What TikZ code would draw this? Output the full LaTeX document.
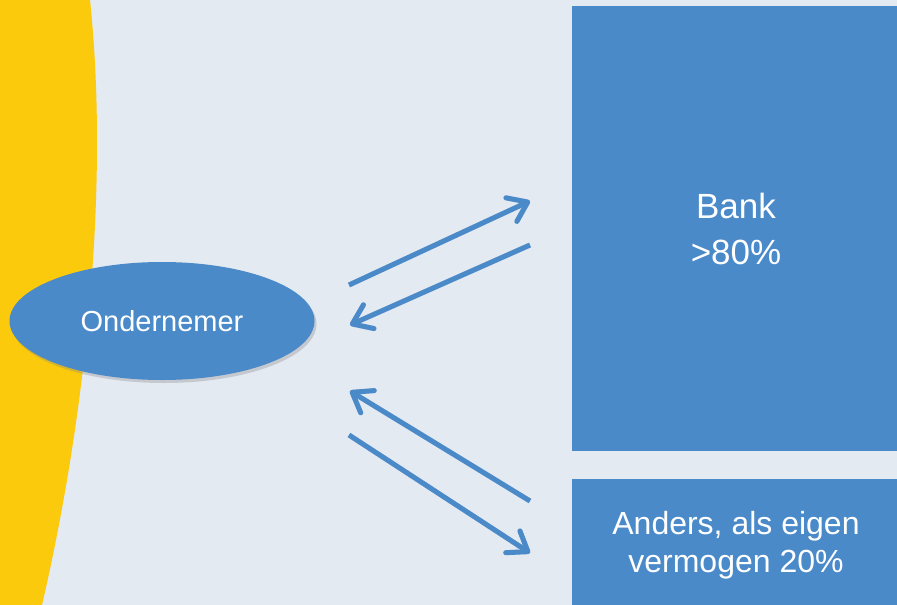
\documentclass[tikz,border=0pt]{standalone}
\usepackage{fontspec}
\setmainfont{Liberation Sans}
\usetikzlibrary{shapes.geometric,arrows.meta,shadows}

\definecolor{slide}{RGB}{227,234,242}
\definecolor{sunband}{RGB}{252,202,12}
\definecolor{boxblue}{RGB}{74,138,201}

\tikzstyle{party}=[ellipse,fill=boxblue,text=white,inner sep=0pt,minimum width=305pt,minimum height=118pt,font=\fontsize{29}{34}\selectfont,drop shadow={opacity=0.3,shadow xshift=2pt,shadow yshift=-3pt}]
\tikzstyle{fund}=[rectangle,fill=boxblue,text=white,inner sep=0pt,align=center,minimum width=328pt]
\tikzstyle{flowtip}=[-{Straight Barb[length=18pt,width=26pt,line cap=round,line join=round]}]
\tikzstyle{flow}=[draw=boxblue,line width=5pt,flowtip]
\tikzstyle{flowshade}=[draw=black,opacity=0.12,line width=5pt,flowtip,xshift=1.5pt,yshift=-2.5pt]
\newcommand{\slidescale}{1pt}

\begin{document}
\begin{tikzpicture}[x=\slidescale, y=-\slidescale]
    % background and yellow band
    \useasboundingbox (0,0) rectangle (897,605);
    \fill[slide] (0,0) rectangle (897,605);
    \fill[sunband] (0,0) -- (90,0) .. controls (110,190) and (85,420) .. (42,605) -- (0,605) -- cycle;

    % the three parties
    \node[party] (ondernemer) at (162,321) {Ondernemer};
    \node[fund, minimum height=445pt, font=\fontsize{35}{46}\selectfont] (bank) at (736,228.5) {Bank\\>80\%};
    \node[fund, minimum height=132pt, font=\fontsize{32}{38}\selectfont] (anders) at (736,545) {Anders, als eigen\\vermogen 20\%};

    % arrow ends
    \foreach \name/\x/\y in {o1/349/285, b1/530/201, b2/530/245, o2/350/325,
                            a3/530/501, o3/350/391, o4/349/435, a4/530/553}
        \coordinate (\name) at (\x,\y);
    \foreach \tail/\head in {o1/b1, b2/o2, a3/o3, o4/a4}{
        \path[flowshade] (\tail) -- (\head);
        \path[flow] (\tail) -- (\head);
    }
\end{tikzpicture}
\end{document}
